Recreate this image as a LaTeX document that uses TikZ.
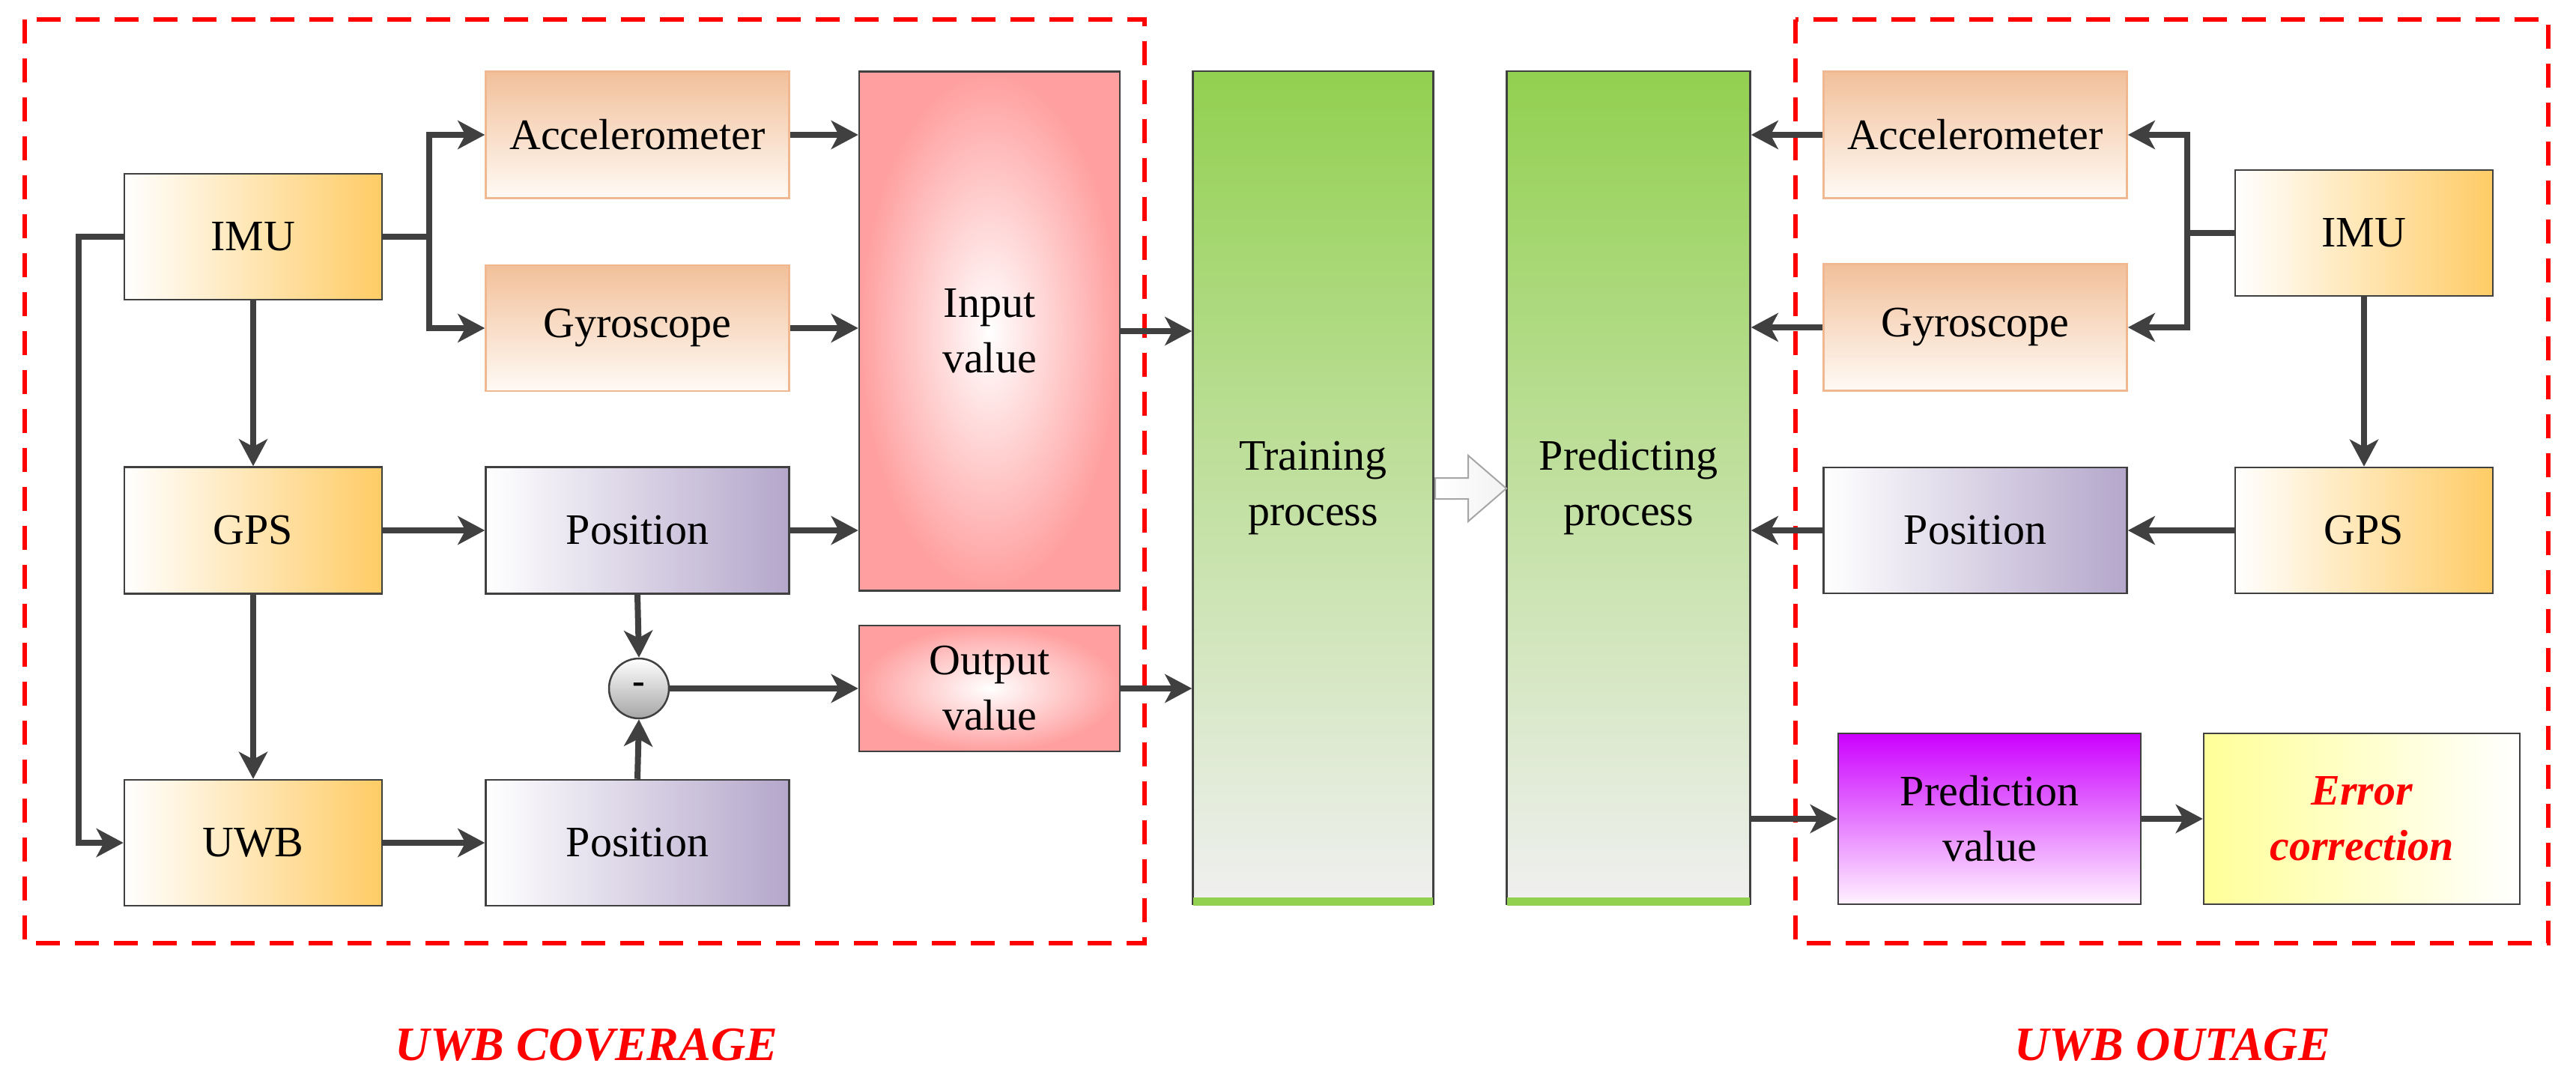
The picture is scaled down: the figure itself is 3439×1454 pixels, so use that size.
\documentclass[tikz,border=0pt]{standalone}
\usepackage{fontspec}
\setmainfont{Liberation Serif}
\usetikzlibrary{arrows.meta}
\definecolor{ln}{HTML}{404040}
\begin{document}
\begin{tikzpicture}[x=1pt,y=-1pt,
  box/.style={draw=ln,line width=2.5pt,inner sep=0pt,align=center,font=\fontsize{58}{74}\selectfont},
  orange/.style={box,shading angle=45,left color=white,right color={rgb,255:red,255;green,204;blue,102}},
  peach/.style={box,draw={rgb,255:red,240;green,184;blue,144},top color={rgb,255:red,242;green,192;blue,154},bottom color={rgb,255:red,255;green,250;blue,245}},
  purple/.style={box,shading angle=-45,left color=white,right color={rgb,255:red,180;green,167;blue,203}},
  pink/.style={box,inner color=white,outer color={rgb,255:red,255;green,159;blue,159}},
  green/.style={box,top color={rgb,255:red,146;green,208;blue,80},bottom color={rgb,255:red,240;green,240;blue,240}},
  arr/.style={draw=ln,line width=8pt,-{Stealth[length=36pt,width=38pt,inset=10pt]}},
  lnk/.style={draw=ln,line width=8pt},
  rdash/.style={draw=red,line width=6pt,dash pattern=on 32pt off 20pt},
  lab/.style={text=red,font=\fontsize{64}{70}\selectfont\bfseries\itshape}]
\useasboundingbox (0,0) rectangle (3439,1454);
\draw[rdash] (33,26) rectangle (1528,1259);
\draw[rdash] (2397,26) rectangle (3402,1259);
% left
\node[orange,minimum width=344pt,minimum height=168pt] (imul) at (338,316) {IMU};
\node[peach,minimum width=405pt,minimum height=169pt] (accl) at (851,180) {Accelerometer};
\node[peach,minimum width=405pt,minimum height=168pt] (gyrl) at (851,438) {Gyroscope};
\node[orange,minimum width=344pt,minimum height=169pt] (gpsl) at (338,708) {GPS};
\node[orange,minimum width=344pt,minimum height=168pt] (uwbl) at (338,1125) {UWB};
\node[purple,minimum width=405pt,minimum height=169pt] (pos1) at (851,708) {Position};
\node[purple,minimum width=405pt,minimum height=168pt] (pos2) at (851,1125) {Position};
\node[pink,minimum width=348pt,minimum height=693pt] (inp) at (1321,442) {Input\\value};
\node[pink,minimum width=348pt,minimum height=168pt] (outp) at (1321,919) {Output\\value};
\node[circle,draw=ln,line width=2.5pt,minimum size=80pt,inner sep=0pt,top color=white,bottom color=gray!70,font=\fontsize{50}{50}\selectfont\bfseries] (circ) at (853,919) {-};
% middle
\node[green,minimum width=321pt,minimum height=1112pt] (train) at (1753,651) {Training\\process};
\node[green,minimum width=325pt,minimum height=1112pt] (pred) at (2174,651) {Predicting\\process};
\fill[color={rgb,255:red,146;green,208;blue,80}] (train.south west) ++(2,-10) rectangle ([xshift=-2pt,yshift=-1pt]train.south east);
\fill[color={rgb,255:red,146;green,208;blue,80}] (pred.south west) ++(2,-10) rectangle ([xshift=-2pt,yshift=-1pt]pred.south east);
\draw[draw=gray!70,line width=2pt,left color=white,right color=gray!10]
  (1916,638) -- (1960,638) -- (1960,608) -- (2011,652) -- (1960,696) -- (1960,666) -- (1916,666) -- cycle;
% right
\node[peach,minimum width=405pt,minimum height=169pt] (accr) at (2637,180) {Accelerometer};
\node[peach,minimum width=405pt,minimum height=169pt] (gyrr) at (2637,437) {Gyroscope};
\node[orange,minimum width=344pt,minimum height=168pt] (imur) at (3156,311) {IMU};
\node[orange,minimum width=344pt,minimum height=168pt] (gpsr) at (3156,708) {GPS};
\node[purple,minimum width=405pt,minimum height=168pt] (posr) at (2637,708) {Position};
\node[box,minimum width=404pt,minimum height=228pt,top color={rgb,255:red,204;green,0;blue,255},bottom color={rgb,255:red,255;green,242;blue,255}] (predv) at (2656,1093) {Prediction\\value};
\node[box,minimum width=422pt,minimum height=228pt,shading angle=135,left color={rgb,255:red,255;green,255;blue,153},right color=white,text=red,font=\fontsize{58}{74}\selectfont\bfseries\itshape] (err) at (3153,1093) {Error\\correction};
% labels
\node[lab] (l1) at (783,1395) {UWB COVERAGE};
\node[lab] (l2) at (2900,1395) {UWB OUTAGE};
% left connectors
\coordinate (j1) at (573,316);
\coordinate (j2) at (105,316);
\draw[lnk] (imul.east) -- (j1);
\draw[arr] (j1) |- (accl.west);
\draw[arr] (j1) |- (gyrl.west);
\draw[arr] (imul.west) -- (j2) |- (uwbl.west);
\draw[arr] (imul.south) -- (gpsl.north);
\draw[arr] (gpsl.south) -- (uwbl.north);
\draw[arr] (gpsl.east) -- (pos1.west);
\draw[arr] (uwbl.east) -- (pos2.west);
\draw[arr] (pos1.south) -- (circ.north);
\draw[arr] (pos2.north) -- (circ.south);
\draw[arr] (circ.east) -- (outp.west);
\draw[arr] (accl.east) -- (inp.west |- accl.east);
\draw[arr] (gyrl.east) -- (inp.west |- gyrl.east);
\draw[arr] (pos1.east) -- (inp.west |- pos1.east);
\draw[arr] (inp.east) -- (train.west |- inp.east);
\draw[arr] (outp.east) -- (train.west |- outp.east);
% right connectors
\coordinate (j3) at (2920,311);
\draw[lnk] (imur.west) -- (j3);
\draw[arr] (j3) |- (accr.east);
\draw[arr] (j3) |- (gyrr.east);
\draw[arr] (imur.south) -- (gpsr.north);
\draw[arr] (gpsr.west) -- (posr.east);
\draw[arr] (accr.west) -- (pred.east |- accr.west);
\draw[arr] (gyrr.west) -- (pred.east |- gyrr.west);
\draw[arr] (posr.west) -- (pred.east |- posr.west);
\draw[arr] (pred.east |- predv.west) -- (predv.west);
\draw[arr] (predv.east) -- (err.west);
\end{tikzpicture}
\end{document}
